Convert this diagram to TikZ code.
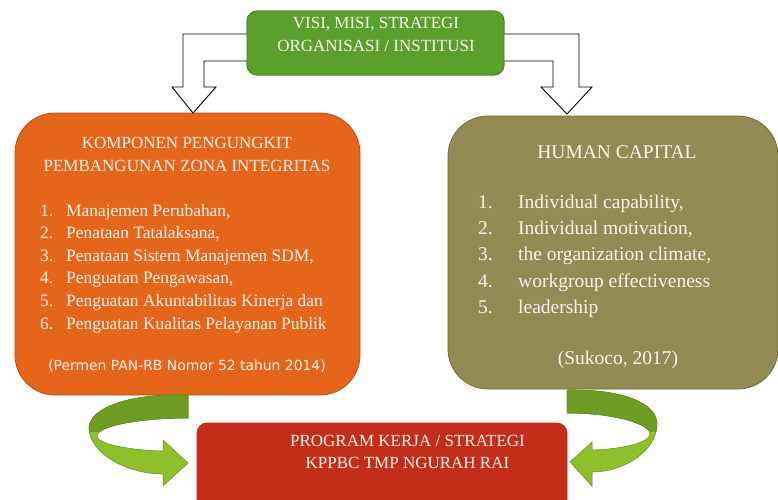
\documentclass[tikz,border=0pt]{standalone}
\usepackage{fontspec}
\setmainfont{Liberation Serif}
\newfontfamily\notefont{DejaVu Sans}
\usetikzlibrary{positioning,calc}

\definecolor{visigreen}{RGB}{91,160,44}
\definecolor{visiedge}{RGB}{72,130,34}
\definecolor{zonaorange}{RGB}{229,102,26}
\definecolor{zonaedge}{RGB}{180,82,20}
\definecolor{capolive}{RGB}{148,138,84}
\definecolor{capedge}{RGB}{114,106,62}
\definecolor{progred}{RGB}{194,46,26}
\definecolor{bandlight}{RGB}{141,192,42}
\definecolor{banddark}{RGB}{110,156,36}
\definecolor{bandedge}{RGB}{96,138,30}
\definecolor{boxtext}{RGB}{252,243,236}

\tikzset{
  panel/.style={rectangle,line width=0.8pt,outer sep=0pt,inner sep=0pt},
  hollow/.style={draw=black,fill=white,line width=0.9pt,line join=miter},
  ribbon/.style={draw=bandedge,line width=0.5pt},
  txt/.style={text=boxtext,inner sep=0pt,anchor=base,font=\fontsize{17}{20}\selectfont},
  listtxt/.style={txt,anchor=base west,font=\fontsize{17.4}{20}\selectfont},
  bigtxt/.style={text=boxtext,inner sep=0pt,anchor=base,font=\fontsize{19.5}{23}\selectfont},
}

% curved arrows under the two panels
\def\leftband{(188,395) .. controls (130,393) and (89,408) .. (89,428)
  .. controls (89,452) and (125,474) .. (163,474) -- (163,486) -- (tipL)
  -- (163,440) -- (163,451) .. controls (128,450) and (97,444) .. (97,436)
  .. controls (97,426) and (140,418) .. (188,418) -- cycle}
\def\rightband{(567,390) .. controls (625,389) and (657,404) .. (657,424)
  .. controls (657,450) and (625,472) .. (592,472) -- (592,486) -- (tipR)
  -- (592,442) -- (592,450) .. controls (625,449) and (650,442) .. (650,434)
  .. controls (650,424) and (615,413) .. (567,413) -- cycle}

\begin{document}
\begin{tikzpicture}[x=1pt,y=-1pt]
\useasboundingbox (0,0) rectangle (778,499);

\coordinate (tipL) at (188,463);
\coordinate (tipR) at (570,462);
\coordinate (downL) at (193,113);
\coordinate (downR) at (567,114);

\node[panel,fill=visigreen,draw=visiedge,rounded corners=10pt,
  minimum width=257pt,minimum height=64pt] (visi) at (375.5,43) {};
\node[panel,fill=zonaorange,draw=zonaedge,rounded corners=40pt,
  minimum width=345pt,minimum height=282pt] (komponen) at (187.5,254) {};
\node[panel,fill=capolive,draw=capedge,rounded corners=40pt,
  minimum width=330pt,minimum height=273pt] (capital) at (613,252.5) {};
\node[panel,fill=progred,draw=progred,rounded corners=10pt,
  minimum width=370pt,minimum height=92pt] (program) at (382,469) {};

\draw[hollow] ([yshift=9pt]visi.west) -| ++(-64,53) -- ++(-11,0) -- (downL)
  -- ++(23,-26) -- ++(-12,0) |- ([yshift=-18pt]visi.west);
\draw[hollow] ([yshift=9pt]visi.east) -| ++(75,53) -- ++(13,0) -- (downR)
  -- ++(-26,-27) -- ++(12,0) |- ([yshift=-18pt]visi.east);
\node[panel,fill=visigreen,draw=visiedge,rounded corners=10pt,
  minimum width=257pt,minimum height=64pt] at (visi) {};

\draw[ribbon,fill=bandlight] \leftband;
\draw[ribbon,fill=bandlight] \rightband;
\begin{scope}
\clip (0,380) rectangle (778,431);
\draw[ribbon,fill=banddark] \leftband;
\draw[ribbon,fill=banddark] \rightband;
\end{scope}

\node[txt] (visi1) at (376,28.6) {VISI, MISI, STRATEGI};
\node[txt] (visi2) at (376,51.6) {ORGANISASI / INSTITUSI};

\node[txt] (zona1) at (187,148.6) {KOMPONEN PENGUNGKIT};
\node[txt] (zona2) at (187,171.6) {PEMBANGUNAN ZONA INTEGRITAS};
\foreach \n/\t in {1/{Manajemen Perubahan,},2/{Penataan Tatalaksana,},
  3/{Penataan Sistem Manajemen SDM,},4/{Penguatan Pengawasan,},
  5/{Penguatan Akuntabilitas Kinerja dan},6/{Penguatan Kualitas Pelayanan Publik}}
{
  \node[listtxt] (zn\n) at (40,193.5+22.6*\n) {\n.};
  \node[listtxt] (zt\n) at (66,193.5+22.6*\n) {\t};
}
\node[txt,font=\notefont\fontsize{13.9}{16}\selectfont] (permen) at (187,370)
  {(Permen PAN-RB Nomor 52 tahun 2014)};

\node[bigtxt] (hc) at (617,158.4) {HUMAN CAPITAL};
\foreach \n/\t in {1/{Individual capability,},2/{Individual motivation,},
  3/{the organization climate,},4/{workgroup effectiveness},5/{leadership}}
{
  \node[bigtxt,anchor=base west] (cn\n) at (478,182.2+26.25*\n) {\n.};
  \node[bigtxt,anchor=base west] (ct\n) at (518,182.2+26.25*\n) {\t};
}
\node[bigtxt] (sukoco) at (618,364.4) {(Sukoco, 2017)};

\node[txt] (prog1) at (407.5,446.6) {PROGRAM KERJA / STRATEGI};
\node[txt] (prog2) at (407.5,468.6) {KPPBC TMP NGURAH RAI};
\end{tikzpicture}
\end{document}
